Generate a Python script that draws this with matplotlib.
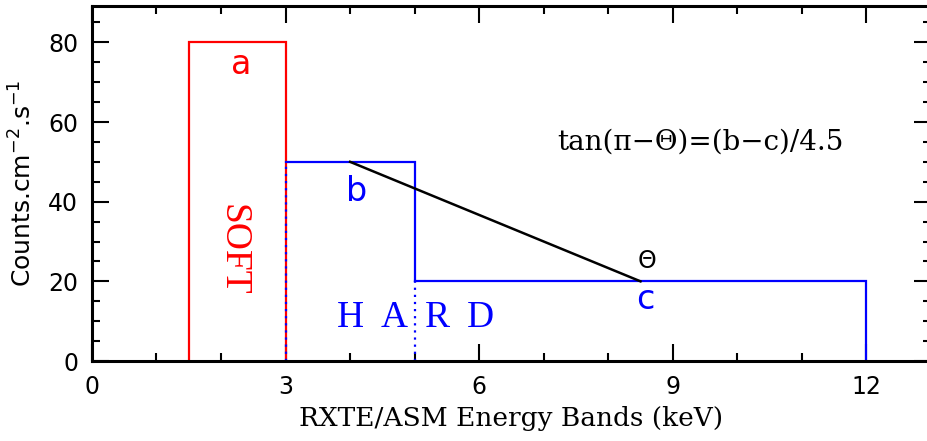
import matplotlib
matplotlib.use("Agg")
import matplotlib.pyplot as plt
from matplotlib.ticker import MultipleLocator

# ASM band edges (keV) and count rates in each band
edges = [1.5, 3.0, 5.0, 12.0]
rates = [80, 50, 20]
band_labels = ['a', 'b', 'c']
hard_letters = ['H', 'A', 'R', 'D']
hard_x = [4.0, 4.68, 5.36, 6.02]

fig = plt.figure(figsize=(9.28, 4.41), dpi=100)
ax = fig.add_axes([0.0991, 0.1814, 0.904, 0.8039])

red, blue = '#ff0000', '#0000ff'
lw = 1.6

# soft band (a)
ax.plot([edges[0], edges[0], edges[1], edges[1]], [0, rates[0], rates[0], 0],
        color=red, lw=lw, solid_joinstyle='miter')
# hard bands (b, c) as a step
ax.plot([edges[1], edges[2], edges[2]], [rates[1], rates[1], rates[2]],
        color=blue, lw=lw, solid_joinstyle='miter')
ax.plot([edges[2], edges[3], edges[3]], [rates[2], rates[2], 0],
        color=blue, lw=lw, solid_joinstyle='miter')
ax.plot([edges[1], edges[1]], [0, rates[1]], color=blue, lw=lw, ls=(0, (1, 2.2)))
ax.plot([edges[2], edges[2]], [0, rates[2]], color=blue, lw=lw, ls=(0, (1, 2.2)))

# hardness slope between band mid-points of b and c
xb = (edges[1] + edges[2]) / 2
xc = (edges[2] + edges[3]) / 2
ax.plot([xb, xc], [rates[1], rates[2]], color='black', lw=1.8)

ax.text(2.32, 74.5, band_labels[0], color=red, fontsize=24, ha='center', va='center')
ax.text(4.1, 42.5, band_labels[1], color=blue, fontsize=24, ha='center', va='center')
ax.text(xc + 0.08, 15.5, band_labels[2], color=blue, fontsize=24, ha='center', va='center')
ax.text(xc + 0.1, 25.2, '\u0398', color='black', fontsize=17, ha='center', va='center')
ax.text(9.43, 55, 'tan(\u03c0\u2212\u0398)=(b\u2212c)/4.5', fontsize=20,
        family='DejaVu Serif', ha='center', va='center')

ax.text(2.18, 28, 'SOFT', color=red, fontsize=27, family='Liberation Serif',
        rotation=-90, ha='center', va='center')
for x, s in zip(hard_x, hard_letters):
    ax.text(x, 10.8, s, color=blue, fontsize=27, family='Liberation Serif',
            ha='center', va='center')

ax.set_xlim(0, 13)
ax.set_ylim(0, 89)
ax.xaxis.set_major_locator(MultipleLocator(3))
ax.xaxis.set_minor_locator(MultipleLocator(1))
ax.yaxis.set_major_locator(MultipleLocator(20))
ax.yaxis.set_minor_locator(MultipleLocator(5))
ax.tick_params(which='both', direction='in', top=True, right=True, width=1.5,
               labelsize=17)
ax.tick_params(which='major', length=12, pad=10)
ax.tick_params(which='minor', length=6)
for sp in ax.spines.values():
    sp.set_linewidth(2.2)

ax.set_xlabel('RXTE/ASM Energy Bands (keV)', fontsize=19, family='DejaVu Serif',
              labelpad=5)
ax.set_ylabel(r'Counts.cm$^{-2}$.s$^{-1}$', fontsize=18, labelpad=8)

fig.savefig('out.png', dpi=100)
